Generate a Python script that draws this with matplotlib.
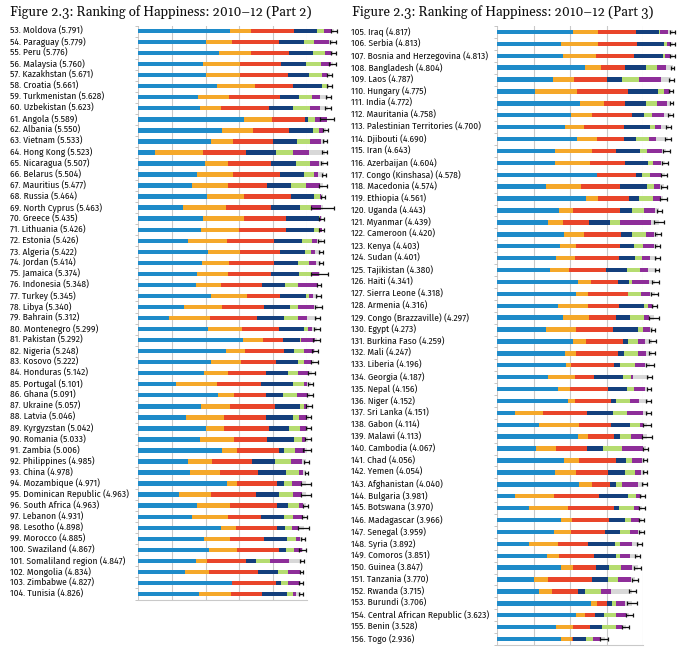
import matplotlib
matplotlib.use('Agg')
import matplotlib.pyplot as plt
from matplotlib.transforms import blended_transform_factory

# ---- Part 2 (ranks 53-104) ----
names_2 = ['Moldova', 'Paraguay', 'Peru', 'Malaysia', 'Kazakhstan', 'Croatia', 'Turkmenistan', 'Uzbekistan',
           'Angola', 'Albania', 'Vietnam', 'Hong Kong', 'Nicaragua', 'Belarus', 'Mauritius', 'Russia',
           'North Cyprus', 'Greece', 'Lithuania', 'Estonia', 'Algeria', 'Jordan', 'Jamaica', 'Indonesia',
           'Turkey', 'Libya', 'Bahrain', 'Montenegro', 'Pakistan', 'Nigeria', 'Kosovo', 'Honduras',
           'Portugal', 'Ghana', 'Ukraine', 'Latvia', 'Kyrgyzstan', 'Romania', 'Zambia', 'Philippines',
           'China', 'Mozambique', 'Dominican Republic', 'South Africa', 'Lebanon', 'Lesotho', 'Morocco',
           'Swaziland', 'Somaliland region', 'Mongolia', 'Zimbabwe', 'Tunisia']
scores_2 = [5.791, 5.779, 5.776, 5.760, 5.671, 5.661, 5.628, 5.623, 5.589, 5.550, 5.533, 5.523, 5.507,
            5.504, 5.477, 5.464, 5.463, 5.435, 5.426, 5.426, 5.422, 5.414, 5.374, 5.348, 5.345, 5.340,
            5.312, 5.299, 5.292, 5.248, 5.222, 5.142, 5.101, 5.091, 5.057, 5.046, 5.042, 5.033, 5.006,
            4.985, 4.978, 4.971, 4.963, 4.963, 4.931, 4.898, 4.885, 4.867, 4.847, 4.834, 4.827, 4.826]
resid_2 = [2.72, 2.01, 2.41, 1.93, 2.01, 2.33, 1.78, 1.83, 3.15, 2.48, 2.15, 0.51, 1.98, 1.75, 1.60, 2.03,
           1.34, 1.91, 1.86, 1.49, 2.08, 1.90, 1.76, 1.73, 2.15, 1.36, 0.92, 2.06, 3.12, 2.59, 2.15, 1.96,
           1.12, 2.38, 1.86, 1.42, 2.01, 1.83, 2.48, 1.49, 1.55, 2.64, 1.22, 1.75, 1.60, 2.45, 1.96, 2.10,
           1.73, 1.39, 2.77, 1.81]
gdp_2 = [0.62, 0.77, 0.94, 1.09, 1.01, 1.14, 0.92, 0.62, 0.81, 0.92, 0.65, 1.40, 0.69, 1.05, 1.07, 1.11,
         1.27, 1.24, 1.14, 1.14, 0.94, 0.80, 0.89, 0.72, 1.07, 1.12, 1.21, 1.01, 0.59, 0.57, 0.90, 0.71,
         1.23, 0.47, 0.86, 1.11, 0.53, 1.02, 0.45, 0.71, 0.87, 0.28, 0.93, 0.97, 1.07, 0.45, 0.76, 0.84,
         0.32, 0.72, 0.02, 0.93]
social_2 = [1.28, 1.38, 1.12, 1.21, 1.41, 1.12, 1.50, 1.44, 0.97, 1.06, 1.19, 1.29, 1.26, 1.41, 1.14, 1.39,
            1.33, 1.24, 1.39, 1.39, 1.19, 1.31, 1.28, 1.23, 0.99, 1.24, 1.39, 1.09, 0.57, 1.16, 1.03, 1.11,
            1.30, 0.95, 1.34, 1.26, 1.35, 0.98, 1.24, 1.17, 1.12, 1.19, 1.35, 1.39, 0.96, 1.20, 1.01, 1.22,
            1.15, 1.44, 1.29, 0.94]
health_2 = [0.67, 0.74, 0.71, 0.75, 0.62, 0.84, 0.57, 0.69, 0.09, 0.72, 0.71, 0.88, 0.75, 0.71, 0.72, 0.67,
            0.85, 0.96, 0.81, 0.84, 0.74, 0.72, 0.82, 0.67, 0.77, 0.77, 0.79, 0.74, 0.51, 0.30, 0.65, 0.67,
            0.93, 0.49, 0.72, 0.80, 0.59, 0.79, 0.15, 0.69, 0.83, 0.20, 0.66, 0.33, 0.69, 0.25, 0.69, 0.23,
            0.30, 0.59, 0.16, 0.74]
freedom_2 = [0.22, 0.32, 0.34, 0.44, 0.40, 0.15, 0.37, 0.50, 0.23, 0.17, 0.40, 0.50, 0.40, 0.28, 0.45, 0.18,
             0.32, 0.04, 0.15, 0.30, 0.17, 0.32, 0.40, 0.38, 0.07, 0.25, 0.42, 0.12, 0.03, 0.28, 0.17, 0.27,
             0.33, 0.41, 0.12, 0.17, 0.32, 0.23, 0.32, 0.48, 0.38, 0.25, 0.43, 0.32, 0.28, 0.22, 0.26, 0.24,
             0.42, 0.29, 0.20, 0.16]
generosity_2 = [0.23, 0.43, 0.18, 0.28, 0.15, 0.05, 0.23, 0.30, 0.33, 0.13, 0.30, 0.48, 0.27, 0.12, 0.40, 0.04,
                0.30, 0.02, 0.08, 0.13, 0.11, 0.22, 0.20, 0.61, 0.12, 0.47, 0.26, 0.13, 0.42, 0.30, 0.25, 0.33,
                0.10, 0.32, 0.10, 0.23, 0.18, 0.10, 0.30, 0.32, 0.12, 0.30, 0.25, 0.12, 0.28, 0.20, 0.12, 0.23,
                0.54, 0.35, 0.34, 0.10]
corruption_2 = [0.05, 0.13, 0.08, 0.06, 0.07, 0.03, 0.25, 0.24, 0.01, 0.07, 0.13, 0.46, 0.15, 0.18, 0.09, 0.04,
                0.05, 0.02, 0.00, 0.14, 0.19, 0.14, 0.02, 0.00, 0.17, 0.13, 0.31, 0.14, 0.05, 0.05, 0.07, 0.09,
                0.10, 0.07, 0.06, 0.06, 0.06, 0.08, 0.07, 0.12, 0.10, 0.11, 0.12, 0.08, 0.05, 0.13, 0.08, 0.01,
                0.39, 0.05, 0.05, 0.15]
ci_2 = [0.09, 0.09, 0.08, 0.10, 0.07, 0.07, 0.08, 0.08, 0.20, 0.08, 0.06, 0.08, 0.09, 0.07, 0.11, 0.06,
        0.33, 0.08, 0.07, 0.09, 0.06, 0.07, 0.25, 0.06, 0.08, 0.10, 0.07, 0.10, 0.10, 0.09, 0.10, 0.10,
        0.08, 0.10, 0.08, 0.08, 0.07, 0.08, 0.12, 0.08, 0.04, 0.14, 0.15, 0.08, 0.07, 0.17, 0.06, 0.10,
        0.05, 0.05, 0.06, 0.06]

# ---- Part 3 (ranks 105-156) ----
names_3 = ['Iraq', 'Serbia', 'Bosnia and Herzegovina', 'Bangladesh', 'Laos', 'Hungary', 'India', 'Mauritania',
           'Palestinian Territories', 'Djibouti', 'Iran', 'Azerbaijan', 'Congo (Kinshasa)', 'Macedonia',
           'Ethiopia', 'Uganda', 'Myanmar', 'Cameroon', 'Kenya', 'Sudan', 'Tajikistan', 'Haiti',
           'Sierra Leone', 'Armenia', 'Congo (Brazzaville)', 'Egypt', 'Burkina Faso', 'Mali', 'Liberia',
           'Georgia', 'Nepal', 'Niger', 'Sri Lanka', 'Gabon', 'Malawi', 'Cambodia', 'Chad', 'Yemen',
           'Afghanistan', 'Bulgaria', 'Botswana', 'Madagascar', 'Senegal', 'Syria', 'Comoros', 'Guinea',
           'Tanzania', 'Rwanda', 'Burundi', 'Central African Republic', 'Benin', 'Togo']
scores_3 = [4.817, 4.813, 4.813, 4.804, 4.787, 4.775, 4.772, 4.758, 4.700, 4.690, 4.643, 4.604, 4.578,
            4.574, 4.561, 4.443, 4.439, 4.420, 4.403, 4.401, 4.380, 4.341, 4.318, 4.316, 4.297, 4.273,
            4.259, 4.247, 4.196, 4.187, 4.156, 4.152, 4.151, 4.114, 4.113, 4.067, 4.056, 4.054, 4.040,
            3.981, 3.970, 3.966, 3.959, 3.892, 3.851, 3.847, 3.770, 3.715, 3.706, 3.623, 3.528, 2.936]
resid_3 = [2.08, 1.76, 1.80, 2.40, 1.53, 1.05, 2.28, 2.04, 1.85, 2.19, 1.58, 1.58, 2.74, 1.34, 2.44, 1.69,
           1.39, 1.84, 1.72, 1.63, 1.44, 2.22, 2.16, 1.67, 1.80, 1.34, 2.07, 1.87, 1.90, 1.39, 1.66, 1.94,
           0.48, 1.16, 2.22, 1.07, 1.84, 1.60, 2.26, 0.50, 0.89, 1.76, 1.57, 0.89, 1.37, 1.74, 1.00, 1.14,
           2.58, 2.17, 1.63, 1.74]
gdp_3 = [0.68, 1.00, 0.91, 0.46, 0.58, 1.14, 0.64, 0.55, 0.54, 0.55, 1.02, 0.96, 0.01, 0.97, 0.33, 0.38,
         0.41, 0.55, 0.45, 0.52, 0.52, 0.36, 0.32, 0.81, 0.71, 0.83, 0.37, 0.30, 0.13, 0.76, 0.35, 0.21,
         0.77, 1.08, 0.26, 0.55, 0.42, 0.57, 0.34, 1.05, 1.05, 0.29, 0.47, 0.78, 0.32, 0.35, 0.39, 0.37,
         0.16, 0.23, 0.46, 0.32]
social_3 = [1.05, 1.08, 1.05, 0.66, 0.91, 1.39, 0.58, 1.10, 1.10, 0.75, 0.67, 0.96, 1.05, 1.05, 0.84, 1.31,
            0.71, 1.01, 1.21, 1.19, 1.03, 0.74, 1.12, 0.87, 0.75, 1.02, 1.00, 1.14, 1.17, 0.52, 1.03, 0.98,
            1.21, 0.89, 0.73, 0.85, 1.00, 0.88, 0.50, 1.25, 1.27, 1.02, 0.91, 0.82, 0.98, 0.61, 1.22, 0.70,
            0.26, 0.29, 0.46, 0.01]
health_3 = [0.62, 0.73, 0.78, 0.57, 0.41, 0.82, 0.57, 0.34, 0.69, 0.33, 0.64, 0.64, 0.18, 0.75, 0.29, 0.32,
            0.58, 0.29, 0.37, 0.44, 0.57, 0.31, 0.00, 0.68, 0.39, 0.68, 0.16, 0.18, 0.16, 0.78, 0.52, 0.14,
            0.71, 0.52, 0.15, 0.43, 0.28, 0.47, 0.16, 0.80, 0.14, 0.44, 0.43, 0.73, 0.59, 0.37, 0.44, 0.21,
            0.16, 0.23, 0.32, 0.37]
freedom_3 = [0.03, 0.09, 0.05, 0.30, 0.46, 0.18, 0.30, 0.21, 0.14, 0.34, 0.20, 0.13, 0.21, 0.18, 0.37, 0.32,
             0.29, 0.39, 0.26, 0.18, 0.37, 0.07, 0.35, 0.10, 0.37, 0.12, 0.25, 0.36, 0.43, 0.21, 0.18, 0.37,
             0.38, 0.27, 0.31, 0.53, 0.17, 0.27, 0.16, 0.20, 0.39, 0.16, 0.27, 0.16, 0.12, 0.32, 0.26, 0.43,
             0.11, 0.34, 0.38, 0.20]
generosity_3 = [0.23, 0.12, 0.16, 0.25, 0.60, 0.14, 0.29, 0.34, 0.18, 0.20, 0.41, 0.21, 0.29, 0.18, 0.21, 0.32,
                0.85, 0.23, 0.29, 0.23, 0.21, 0.47, 0.25, 0.11, 0.14, 0.20, 0.21, 0.23, 0.27, 0.06, 0.32, 0.25,
                0.44, 0.07, 0.32, 0.57, 0.26, 0.16, 0.44, 0.12, 0.14, 0.21, 0.21, 0.32, 0.27, 0.32, 0.37, 0.26,
                0.23, 0.27, 0.18, 0.21]
corruption_3 = [0.13, 0.03, 0.06, 0.17, 0.28, 0.05, 0.11, 0.18, 0.20, 0.33, 0.12, 0.12, 0.11, 0.10, 0.08, 0.10,
                0.21, 0.11, 0.10, 0.20, 0.24, 0.17, 0.12, 0.07, 0.13, 0.08, 0.20, 0.17, 0.13, 0.45, 0.09, 0.26,
                0.16, 0.12, 0.12, 0.07, 0.09, 0.10, 0.18, 0.06, 0.09, 0.09, 0.10, 0.19, 0.20, 0.14, 0.09, 0.60,
                0.20, 0.09, 0.10, 0.10]
ci_3 = [0.07, 0.06, 0.06, 0.05, 0.07, 0.06, 0.04, 0.06, 0.06, 0.08, 0.09, 0.08, 0.08, 0.08, 0.09, 0.07,
        0.13, 0.08, 0.07, 0.07, 0.06, 0.10, 0.10, 0.08, 0.13, 0.06, 0.09, 0.09, 0.11, 0.07, 0.06, 0.06,
        0.06, 0.11, 0.13, 0.06, 0.05, 0.06, 0.07, 0.07, 0.09, 0.07, 0.08, 0.07, 0.06, 0.09, 0.08, 0.09,
        0.14, 0.09, 0.10, 0.11]

colors = ['#1e8bc9', '#f5a82a', '#e9452a', '#143f7c', '#b5dc70', '#8e2e99', '#d8d8d8']

W, H = 682, 655
fig = plt.figure(figsize=(W / 100, H / 100), dpi=100)
fig.patch.set_facecolor('white')

# narrow humanist sans for the country labels, serif with old-style figures for titles
label_font = ['Fira Sans Condensed', 'Archivo Narrow', 'Roboto Condensed', 'Roboto']
title_font = ['Gelasio', 'Liberation Serif']


def draw_panel(rect, xmax, first_rank, names, scores, parts, ci, label_x, bar_h):
    ax = fig.add_axes([rect[0] / W, 1 - rect[3] / H, (rect[2] - rect[0]) / W, (rect[3] - rect[1]) / H])
    n = len(names)
    ys = list(range(n))
    left = [0.0] * n
    for vals, c in zip(parts, colors):
        ax.barh(ys, vals, left=left, height=bar_h, color=c, linewidth=0, clip_on=False, zorder=3)
        left = [a + b for a, b in zip(left, vals)]
    eb = ax.errorbar(scores, ys, xerr=ci, fmt='none', ecolor='#111111', elinewidth=0.9,
                     capsize=1.6, capthick=0.9, zorder=4)
    for art in eb.get_children():
        art.set_clip_on(False)

    ax.set_xlim(0, xmax)
    ax.set_ylim(n - 0.5, -0.5)
    ax.set_xticks(range(xmax + 1))
    ax.grid(axis='x', color='#c9c9c9', linewidth=0.8, zorder=0)
    for s in ['top', 'right', 'left']:
        ax.spines[s].set_visible(False)
    ax.spines['bottom'].set_color('#c9c9c9')
    ax.tick_params(axis='x', length=0, labelbottom=False)
    ax.set_yticks([y + 0.5 for y in range(-1, n)])
    ax.tick_params(axis='y', length=2, width=0.6, color='#bbbbbb', labelleft=False)

    tr = blended_transform_factory(fig.transFigure, ax.transData)
    for i, (nm, sc) in enumerate(zip(names, scores)):
        ax.text(label_x / W, i, f'{first_rank + i}. {nm} ({sc:.3f})', transform=tr,
                ha='left', va='center', fontsize=6.8, family=label_font, color='#111111')
    return ax


draw_panel((138, 25.5, 307, 599.5), 5, 53, names_2, scores_2,
           [resid_2, gdp_2, social_2, health_2, freedom_2, generosity_2, corruption_2], ci_2, 10, 0.4)
draw_panel((497, 26, 643, 645), 4, 105, names_3, scores_3,
           [resid_3, gdp_3, social_3, health_3, freedom_3, generosity_3, corruption_3], ci_3, 351, 0.37)

fig.text(10 / W, 1 - 12 / H, 'Figure 2.3: Ranking of Happiness: 2010\u201312 (Part 2)',
         ha='left', va='center', fontsize=9.5, family=title_font, color='#111111')
fig.text(352 / W, 1 - 12 / H, 'Figure 2.3: Ranking of Happiness: 2010\u201312 (Part 3)',
         ha='left', va='center', fontsize=9.5, family=title_font, color='#111111')

fig.savefig('out.png', dpi=100, facecolor='white')
